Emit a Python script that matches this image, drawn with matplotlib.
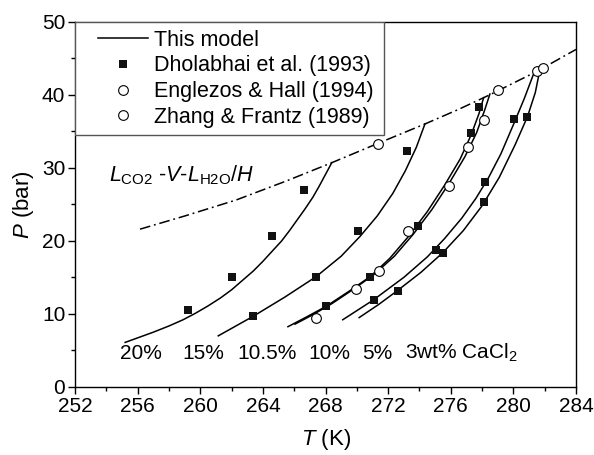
import matplotlib
matplotlib.use('Agg')
import matplotlib.pyplot as plt
from matplotlib.ticker import MultipleLocator
from matplotlib.patches import Rectangle

plt.rcParams['font.family'] = ['Liberation Sans', 'DejaVu Sans']
plt.rcParams['mathtext.fontset'] = 'custom'
plt.rcParams['mathtext.rm'] = 'Liberation Sans'
plt.rcParams['mathtext.it'] = 'Liberation Sans:italic'

dholabhai_T = [259.2, 262.0, 264.6, 266.6, 263.4, 267.4, 270.1, 273.2, 268.05, 270.85,
               273.9, 277.3, 277.8, 271.1, 272.6, 275.05, 275.5, 278.1, 278.2, 280.05, 280.9]
dholabhai_P = [10.5, 15.1, 20.6, 27.0, 9.7, 15.0, 21.4, 32.3, 11.05, 15.1,
               22.0, 34.7, 38.3, 11.9, 13.1, 18.75, 18.3, 25.3, 28.1, 36.7, 37.0]

englezos_T = [267.4, 269.95, 271.4, 273.25, 275.9, 277.1, 278.1]
englezos_P = [9.4, 13.4, 15.9, 21.3, 27.5, 32.9, 36.6]

zhang_T = [271.35, 279.0, 281.5, 281.9]
zhang_P = [33.3, 40.6, 43.3, 43.7]

# 模型曲线
t20 = [255.2, 256.1, 257.0, 258.0, 258.9, 259.7, 260.5, 261.3, 262.0, 262.7, 263.4,
       264.0, 264.6, 265.2, 265.7, 266.2, 266.7, 267.2, 267.6, 268.0, 268.4]
p20 = [6.1, 6.8, 7.5, 8.35, 9.2, 10.1, 11.1, 12.2, 13.3, 14.6, 15.9,
       17.2, 18.6, 20.0, 21.4, 22.9, 24.4, 26.0, 27.5, 29.1, 30.7]

t15 = [261.15, 263.4, 265.4, 267.4, 269.0, 270.2, 271.3, 272.3, 273.1, 273.8, 274.35]
p15 = [7.0, 9.7, 12.3, 15.1, 17.9, 20.6, 23.4, 26.5, 29.6, 32.8, 36.0]

t105 = [265.6, 266.8, 268.05, 269.5, 270.85, 272.1, 273.3, 274.5, 275.6, 276.6, 277.3, 277.8, 278.1]
p105 = [8.25, 9.6, 11.05, 13.1, 15.1, 17.6, 20.6, 24.0, 27.6, 31.2, 34.5, 37.4, 39.6]

t10 = [266.05, 267.2, 268.4, 269.8, 271.1, 272.4, 273.6, 274.8, 275.9, 276.9, 277.65, 278.15, 278.5]
p10 = [8.6, 9.9, 11.4, 13.4, 15.4, 17.9, 20.9, 24.3, 27.9, 31.5, 34.8, 37.8, 40.1]

t5 = [269.1, 271.05, 273.0, 274.5, 275.6, 276.7, 277.6, 278.4, 279.2, 280.0, 280.7, 281.3]
p5 = [9.2, 11.9, 15.0, 17.8, 20.3, 23.1, 25.8, 28.6, 31.9, 35.9, 39.5, 42.9]

t3 = [270.15, 271.4, 272.6, 274.1, 275.5, 276.8, 278.0, 279.1, 280.1, 280.9, 281.4, 281.7]
p3 = [9.5, 11.3, 13.2, 15.7, 18.4, 21.4, 24.8, 28.7, 33.1, 37.0, 40.3, 43.5]

# 三相线 L-V-L/H
t_lvh = [256.15, 259.0, 262.3, 265.5, 268.4, 271.3, 274.35, 276.5, 278.5, 281.5, 284.0]
p_lvh = [21.6, 23.4, 25.6, 28.2, 30.7, 33.3, 36.0, 38.0, 40.0, 43.2, 46.2]

curve_labels = ['20%', '15%', '10.5%', '10%', '5%', '3wt% CaCl$_2$']
label_T = [254.87, 258.83, 262.34, 266.88, 270.33, 273.07]
label_P = 4.65

fig = plt.figure(figsize=(5.94, 4.55), dpi=100)
ax = fig.add_axes([0.1263, 0.1495, 0.8434, 0.8028])

lw = 1.1
first = True
for t, p in [(t20, p20), (t15, p15), (t105, p105), (t10, p10), (t5, p5), (t3, p3)]:
    ax.plot(t, p, color='black', lw=lw, label='This model' if first else None)
    first = False
ax.plot(t_lvh, p_lvh, color='black', lw=lw, dashes=[7, 2.5, 1.2, 2.5])

ax.plot(dholabhai_T, dholabhai_P, 's', color='#111111', ms=6.4, mew=0, label='Dholabhai et al. (1993)')
ax.plot(englezos_T, englezos_P, 'o', mfc='white', mec='black', ms=7, mew=0.8, label='Englezos & Hall (1994)')
ax.plot(zhang_T, zhang_P, 'o', mfc='white', mec='black', ms=7, mew=0.8, label='Zhang & Frantz (1989)')

for s, x in zip(curve_labels, label_T):
    ax.text(x, label_P, s, fontsize=15, ha='left', va='center')

ax.text(254.19, 28.1, r'$L_{\rm CO2}$ -$V$-$L_{\rm H2O}$/$H$', fontsize=15.5, ha='left', va='baseline')

ax.set_xlim(252, 284)
ax.set_ylim(0, 50)
ax.xaxis.set_major_locator(MultipleLocator(4))
ax.xaxis.set_minor_locator(MultipleLocator(2))
ax.yaxis.set_major_locator(MultipleLocator(10))
ax.yaxis.set_minor_locator(MultipleLocator(5))
ax.tick_params(which='major', direction='out', length=5, width=1, labelsize=15, pad=2)
ax.tick_params(which='minor', direction='out', length=3, width=1)
for sp in ax.spines.values():
    sp.set_linewidth(1.0)

ax.set_xlabel('$T$ (K)', fontsize=16, labelpad=8)
ax.set_ylabel('$P$ (bar)', fontsize=16, labelpad=4)

# 图例边框
ax.add_patch(Rectangle((0, 0.69), 0.617, 0.31, transform=ax.transAxes,
                       facecolor='white', edgecolor='#555555', lw=1.0, zorder=4))
leg = ax.legend(loc='upper left', bbox_to_anchor=(0.046, 0.978), borderaxespad=0, borderpad=0,
                fontsize=15.5, frameon=False, handlelength=2.3, handletextpad=0.3,
                labelspacing=0.22)
leg.set_zorder(5)

fig.savefig('out.png', dpi=100)
